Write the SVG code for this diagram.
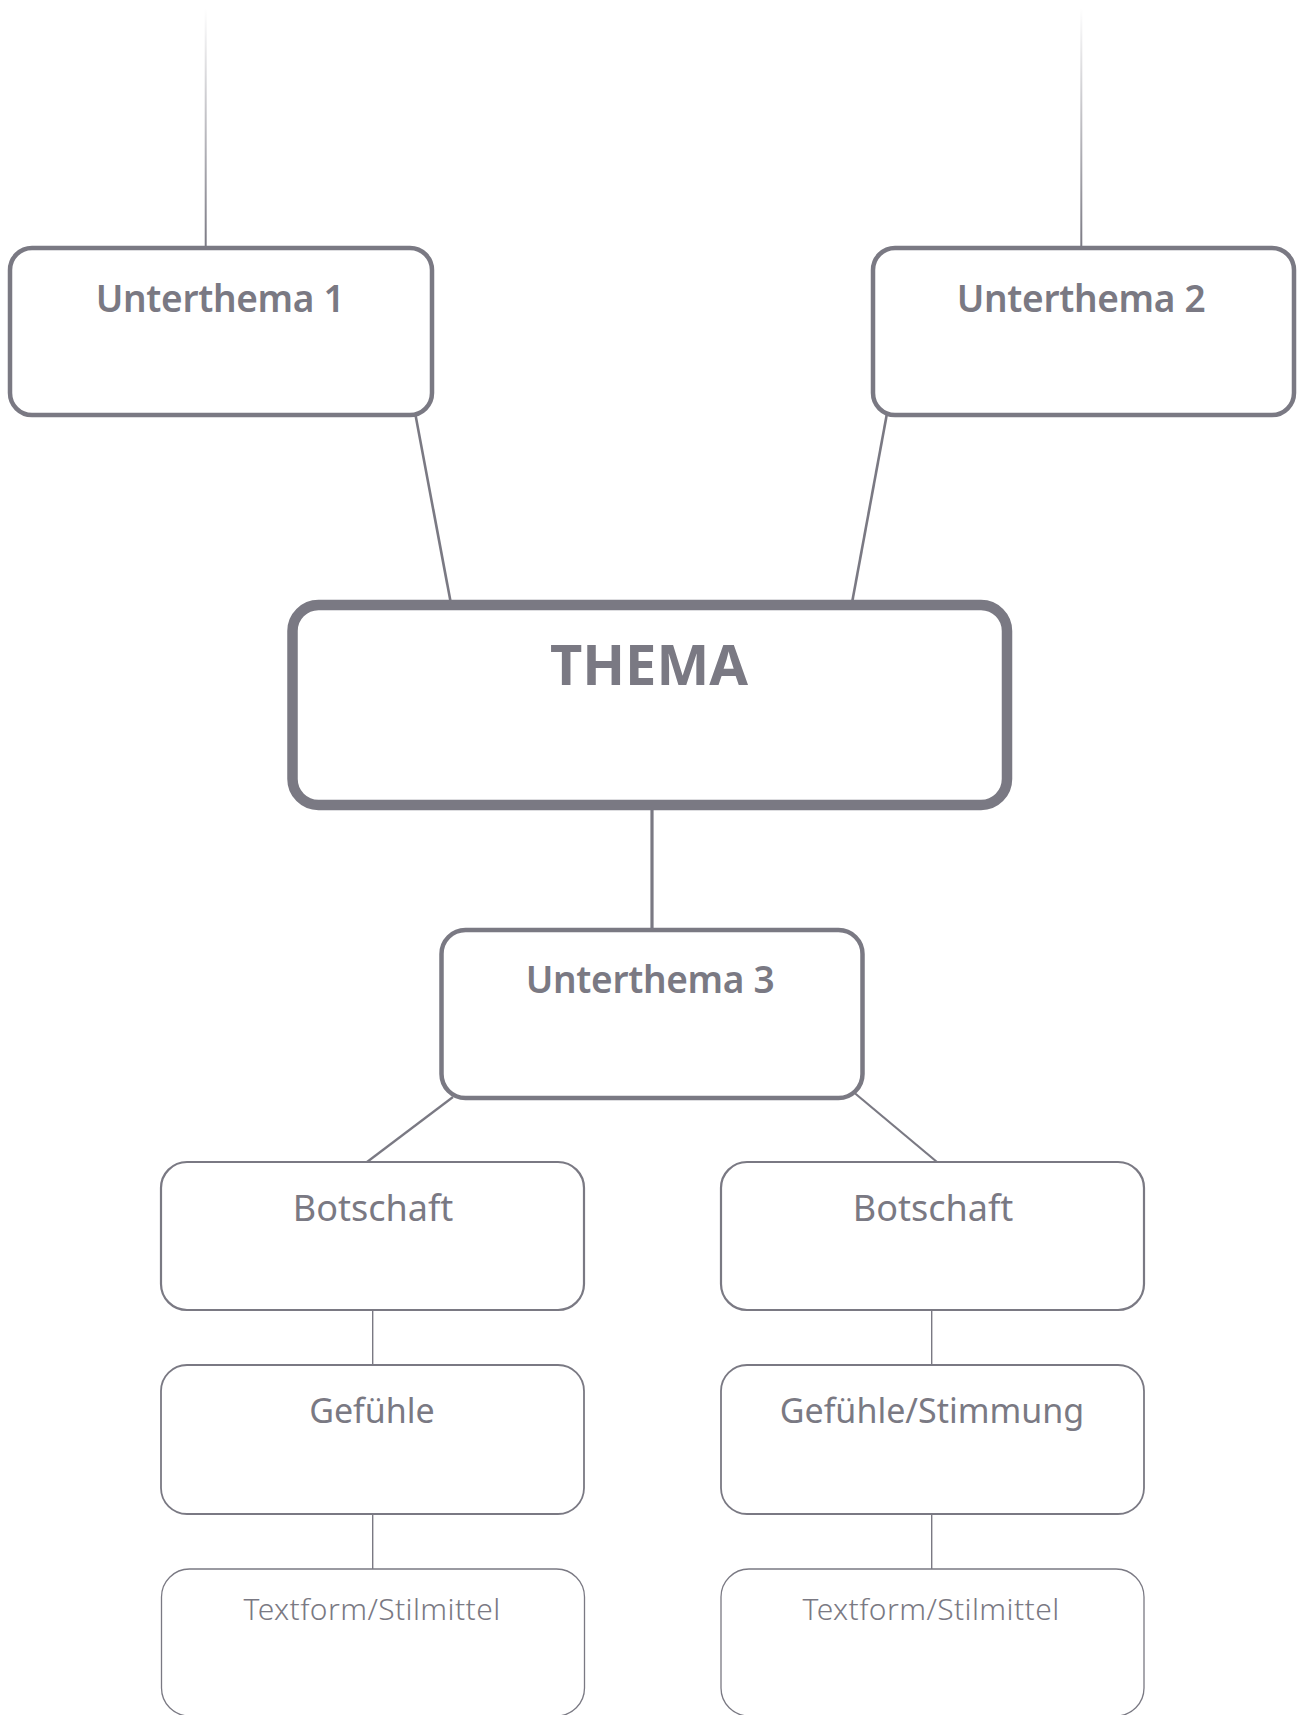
<svg xmlns="http://www.w3.org/2000/svg" width="1300" height="1715" viewBox="0 0 1300 1715">
  <defs>
    <linearGradient id="fadeTop" gradientUnits="userSpaceOnUse" x1="0" y1="8" x2="0" y2="248">
      <stop offset="0" stop-color="#7a7983" stop-opacity="0"/>
      <stop offset="1" stop-color="#7a7983" stop-opacity="1"/>
    </linearGradient>
  </defs>
  <style>
    .box { fill: #ffffff; stroke: #7a7983; }
    .l1 { stroke-width: 10.5; }
    .l2 { stroke-width: 4.5; }
    .l3 { stroke-width: 2.2; }
    .l4 { stroke-width: 1.8; }
    .l5 { stroke-width: 1.3; }
    .t { font-family: "Noto Sans", "Open Sans", sans-serif; fill: #7a7983; text-anchor: middle; }
    .tmain { font-size: 56px; font-weight: 700; }
    .tsub { font-size: 37px; font-weight: 600; letter-spacing: -0.3px; }
    .tbot { font-size: 36px; font-weight: 400; }
    .tgef { font-size: 34px; font-weight: 400; }
    .ttex { font-size: 30px; font-weight: 300; letter-spacing: 0.4px; }
    .conn line { stroke: #7a7983; fill: none; }
    .conn line.fade { stroke: url(#fadeTop); }
  </style>

  <g id="connectors" class="conn">
    <line class="fade" x1="205.7" y1="8" x2="205.7" y2="248" stroke-width="2"/>
    <line class="fade" x1="1081.3" y1="8" x2="1081.3" y2="248" stroke-width="2"/>
    <line x1="415.5" y1="415" x2="451" y2="604" stroke-width="2.6"/>
    <line x1="886.7" y1="415" x2="851.8" y2="604" stroke-width="2.6"/>
    <line x1="652" y1="808" x2="652" y2="930" stroke-width="3.2"/>
    <line x1="453" y1="1097" x2="367" y2="1162" stroke-width="2.2"/>
    <line x1="851" y1="1090" x2="937" y2="1162" stroke-width="2.2"/>
    <line x1="372.7" y1="1310" x2="372.7" y2="1365" stroke-width="1.4"/>
    <line x1="372.7" y1="1514" x2="372.7" y2="1569" stroke-width="1.4"/>
    <line x1="931.7" y1="1310" x2="931.7" y2="1365" stroke-width="1.4"/>
    <line x1="931.7" y1="1514" x2="931.7" y2="1569" stroke-width="1.4"/>
  </g>

  <g id="unterthema1">
    <rect class="box l2" x="10" y="248" width="422" height="167" rx="22"/>
    <text class="t tsub" x="220" y="312">Unterthema 1</text>
  </g>
  <g id="unterthema2">
    <rect class="box l2" x="873" y="248" width="421" height="167" rx="22"/>
    <text class="t tsub" x="1081" y="312">Unterthema 2</text>
  </g>
  <g id="thema">
    <rect class="box l1" x="292.5" y="605" width="714.5" height="200" rx="26"/>
    <text class="t tmain" x="649" y="685">THEMA</text>
  </g>
  <g id="unterthema3">
    <rect class="box l2" x="441.5" y="930" width="421" height="168" rx="24"/>
    <text class="t tsub" x="650" y="993">Unterthema 3</text>
  </g>
  <g id="botschaft-left">
    <rect class="box l3" x="161" y="1162" width="423" height="148" rx="26"/>
    <text class="t tbot" x="373" y="1221">Botschaft</text>
  </g>
  <g id="botschaft-right">
    <rect class="box l3" x="721" y="1162" width="423" height="148" rx="26"/>
    <text class="t tbot" x="933" y="1221">Botschaft</text>
  </g>
  <g id="gefuehle-left">
    <rect class="box l4" x="161" y="1365" width="423" height="149" rx="26"/>
    <text class="t tgef" x="372" y="1423">Gefühle</text>
  </g>
  <g id="gefuehle-right">
    <rect class="box l4" x="721" y="1365" width="423" height="149" rx="26"/>
    <text class="t tgef" x="932" y="1423">Gefühle/Stimmung</text>
  </g>
  <g id="textform-left">
    <rect class="box l5" x="161.5" y="1569" width="423" height="147" rx="28"/>
    <text class="t ttex" x="372" y="1620">Textform/Stilmittel</text>
  </g>
  <g id="textform-right">
    <rect class="box l5" x="721" y="1569" width="423" height="147" rx="28"/>
    <text class="t ttex" x="931" y="1620">Textform/Stilmittel</text>
  </g>
</svg>
